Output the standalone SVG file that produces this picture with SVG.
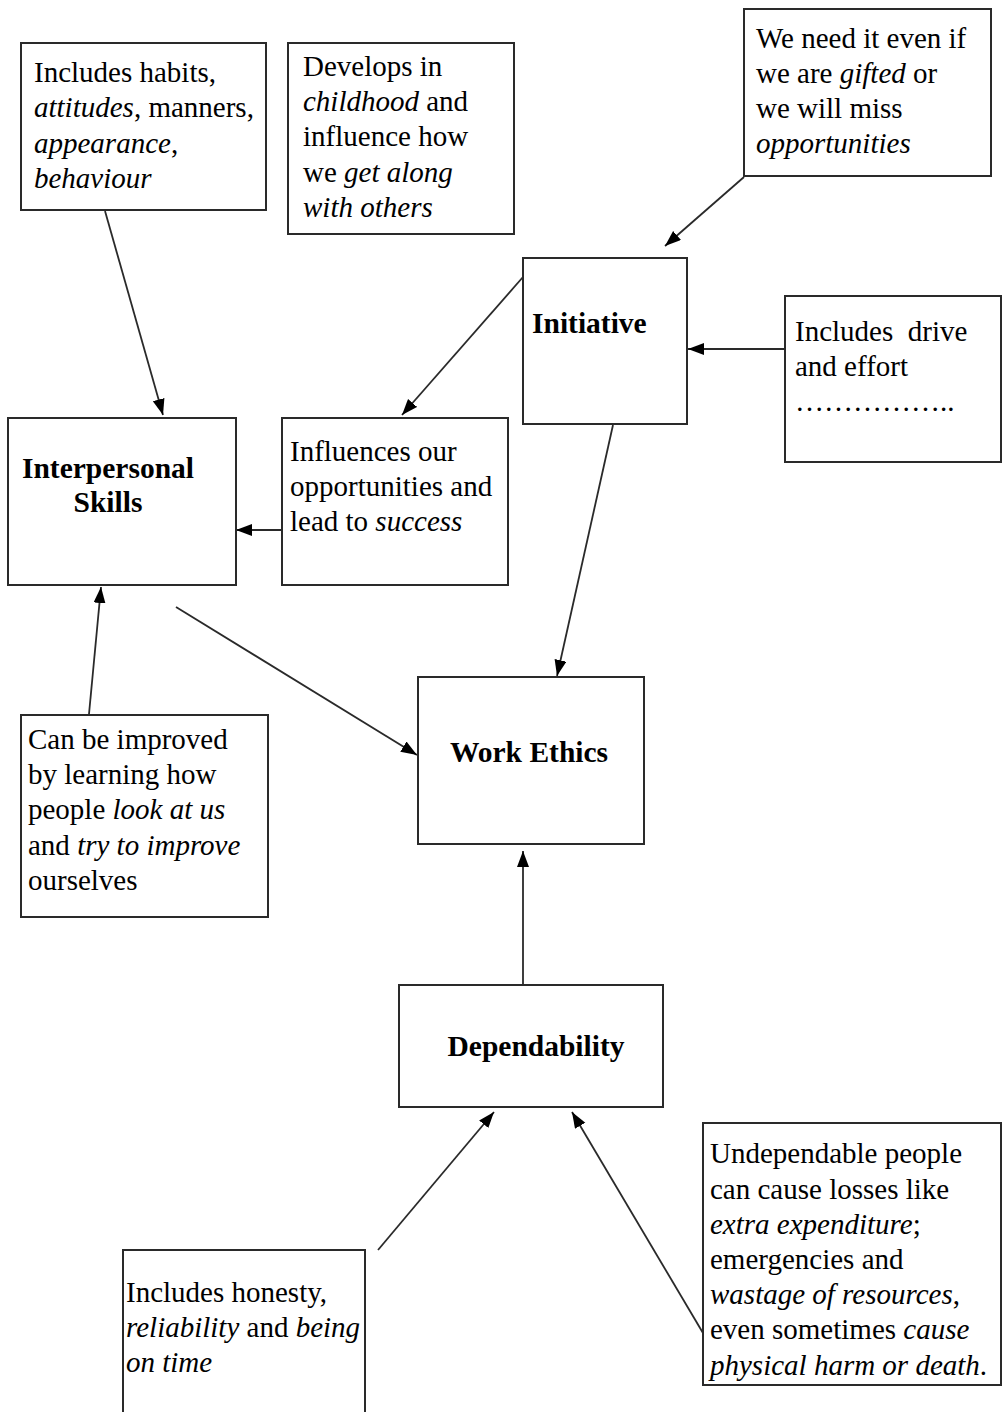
<svg xmlns="http://www.w3.org/2000/svg" width="1002" height="1412" viewBox="0 0 1002 1412">
<defs>
<style>
.box{fill:#fff;stroke:#2a2a2a;stroke-width:2}
.t{font-family:"Liberation Serif","Times New Roman",serif;font-size:29px;fill:#000}
.b{font-weight:bold;font-size:29.5px}
.i{font-style:italic}
.c{stroke:#2a2a2a;stroke-width:1.8;fill:none;marker-end:url(#ah)}
</style>
<marker id="ah" markerUnits="userSpaceOnUse" markerWidth="18" markerHeight="14" refX="16" refY="6" orient="auto">
<path d="M0,0 L16,6 L0,12 z" fill="#000"/>
</marker>
</defs>
<rect width="1002" height="1412" fill="#fff"/>
<g id="connectors">
<line class="c" x1="105" y1="211" x2="163" y2="415"/>
<line class="c" x1="744" y1="177" x2="665" y2="246"/>
<line class="c" x1="785" y1="349" x2="688" y2="349"/>
<line class="c" x1="523" y1="277" x2="402" y2="415"/>
<line class="c" x1="613" y1="425" x2="557" y2="676"/>
<line class="c" x1="281" y1="530" x2="236" y2="530"/>
<line class="c" x1="89" y1="714" x2="101" y2="587"/>
<line class="c" x1="176" y1="607" x2="417" y2="755"/>
<line class="c" x1="523" y1="984" x2="523" y2="851"/>
<line class="c" x1="378" y1="1250" x2="494" y2="1112"/>
<line class="c" x1="703" y1="1333" x2="572" y2="1112"/>
</g>
<g id="habits">
<rect class="box" x="21" y="43" width="245" height="167"/>
<text class="t" x="34" y="82">Includes habits,</text>
<text class="t" x="34" y="117"><tspan class="i">attitudes</tspan>, manners,</text>
<text class="t" x="34" y="153"><tspan class="i">appearance</tspan>,</text>
<text class="t" x="34" y="188" font-style="italic">behaviour</text>
</g>
<g id="develops">
<rect class="box" x="288" y="43" width="226" height="191"/>
<text class="t" x="303" y="76">Develops in</text>
<text class="t" x="303" y="111"><tspan class="i">childhood</tspan> and</text>
<text class="t" x="303" y="146">influence how</text>
<text class="t" x="303" y="182">we <tspan class="i">get along</tspan></text>
<text class="t" x="303" y="217" font-style="italic">with others</text>
</g>
<g id="needit">
<rect class="box" x="744" y="9" width="247" height="167"/>
<text class="t" x="756" y="48">We need it even if</text>
<text class="t" x="756" y="83">we are <tspan class="i">gifted</tspan> or</text>
<text class="t" x="756" y="118">we will miss</text>
<text class="t" x="756" y="153" font-style="italic">opportunities</text>
</g>
<g id="initiative">
<rect class="box" x="523" y="258" width="164" height="166"/>
<text class="t b" x="532" y="333">Initiative</text>
</g>
<g id="drive">
<rect class="box" x="785" y="296" width="216" height="166"/>
<text class="t" x="795" y="341" xml:space="preserve">Includes  drive</text>
<text class="t" x="795" y="376">and effort</text>
<text class="t" x="795" y="411">……………..</text>
</g>
<g id="interpersonal">
<rect class="box" x="8" y="418" width="228" height="167"/>
<text class="t b" x="108" y="478" text-anchor="middle">Interpersonal</text>
<text class="t b" x="108" y="512" text-anchor="middle">Skills</text>
</g>
<g id="influences">
<rect class="box" x="282" y="418" width="226" height="167"/>
<text class="t" x="290" y="461">Influences our</text>
<text class="t" x="290" y="496">opportunities and</text>
<text class="t" x="290" y="531">lead to <tspan class="i">success</tspan></text>
</g>
<g id="workethics">
<rect class="box" x="418" y="677" width="226" height="167"/>
<text class="t b" x="529" y="762" text-anchor="middle">Work Ethics</text>
</g>
<g id="improved">
<rect class="box" x="21" y="715" width="247" height="202"/>
<text class="t" x="28" y="749">Can be improved</text>
<text class="t" x="28" y="784">by learning how</text>
<text class="t" x="28" y="819">people <tspan class="i">look at us</tspan></text>
<text class="t" x="28" y="855">and <tspan class="i">try to improve</tspan></text>
<text class="t" x="28" y="890">ourselves</text>
</g>
<g id="dependability">
<rect class="box" x="399" y="985" width="264" height="122"/>
<text class="t b" x="536" y="1056" text-anchor="middle">Dependability</text>
</g>
<g id="undependable">
<rect class="box" x="703" y="1123" width="298" height="262"/>
<text class="t" x="710" y="1163">Undependable people</text>
<text class="t" x="710" y="1199">can cause losses like</text>
<text class="t" x="710" y="1234"><tspan class="i">extra expenditure</tspan>;</text>
<text class="t" x="710" y="1269">emergencies and</text>
<text class="t" x="710" y="1304"><tspan class="i">wastage of resources</tspan>,</text>
<text class="t" x="710" y="1339">even sometimes <tspan class="i">cause</tspan></text>
<text class="t" x="710" y="1375"><tspan class="i">physical harm or death</tspan>.</text>
</g>
<g id="honesty">
<path class="box" d="M123,1420 L123,1250 L365,1250 L365,1420"/>
<text class="t" x="126" y="1302">Includes honesty,</text>
<text class="t" x="126" y="1337"><tspan class="i">reliability</tspan> and <tspan class="i">being</tspan></text>
<text class="t" x="126" y="1372" font-style="italic">on time</text>
</g>
</svg>
